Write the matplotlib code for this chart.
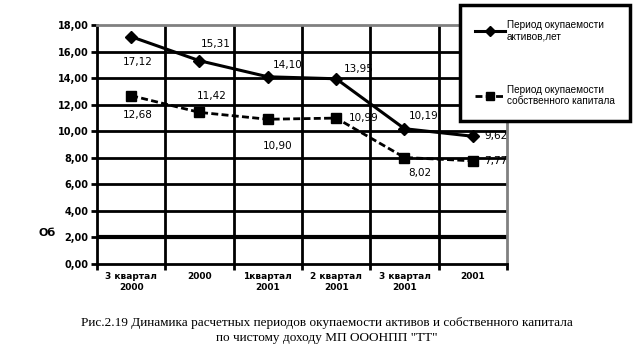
import numpy as np
import matplotlib
matplotlib.use("Agg")
from matplotlib import pyplot as plt

# categories and values
categories = ["3 квартал\n2000", "2000", "1квартал\n2001", "2 квартал\n2001", "3 квартал\n2001", "2001"]
assets = [17.12, 15.31, 14.10, 13.95, 10.19, 9.62]
equity = [12.68, 11.42, 10.90, 10.99, 8.02, 7.77]
assets_name = "Период окупаемости\nактивов,лет"
equity_name = "Период окупаемости\nсобственного капитала"
yticks = np.arange(0, 18.01, 2)

# label offsets (points) for each value, like in the picture
assets_off = [(4.5, -18), (12, 12), (14, 8.5), (16, 7), (14, 9.5), (16.5, 0)]
equity_off = [(4.5, -14), (8.5, 11.5), (7, -19), (19.5, 0), (11, -11), (16.5, 0)]

fig = plt.figure(figsize=(6.34, 3.52), dpi=100)
ax = fig.add_axes([97/634, 88/352, 410/634, 239/352])

x = np.arange(len(categories))
ax.plot(x, assets, color="black", lw=2.2, marker="D", ms=6, label=assets_name)
ax.plot(x, equity, color="black", lw=2, ls=(0, (2.5, 1.2)), marker="s", ms=7.5, label=equity_name)

for i in range(len(x)):
    ax.annotate(f"{assets[i]:.2f}".replace(".", ","), (x[i], assets[i]), xytext=assets_off[i],
                textcoords="offset points", ha="center", va="center", fontsize=7.5)
    ax.annotate(f"{equity[i]:.2f}".replace(".", ","), (x[i], equity[i]), xytext=equity_off[i],
                textcoords="offset points", ha="center", va="center", fontsize=7.5)

ax.set_xlim(-0.5, len(categories) - 0.5)
ax.set_ylim(0, 18)
ax.set_yticks(yticks)
ax.set_yticklabels([f"{v:.2f}".replace(".", ",") for v in yticks], fontsize=7, fontweight="bold")
ax.set_xticks(x)
ax.set_xticklabels(categories, fontsize=6.5, fontweight="bold")
ax.set_xticks(np.arange(-0.5, len(categories), 1), minor=True)
ax.tick_params(axis="x", which="major", length=0, pad=6)
ax.tick_params(axis="x", which="minor", length=4, width=2)
ax.tick_params(axis="y", length=4, width=2, pad=2)

# grid
for v in yticks[1:-1]:
    ax.axhline(v, color="black", lw=3 if v == 2 else 2, zorder=0)
for b in np.arange(0.5, len(categories) - 1, 1):
    ax.axvline(b, color="black", lw=2, zorder=0)

ax.spines["left"].set_linewidth(2)
ax.spines["bottom"].set_linewidth(2)
ax.spines["top"].set_color("gray")
ax.spines["right"].set_color("gray")
ax.spines["top"].set_linewidth(2)
ax.spines["right"].set_linewidth(2)

fig.text(47/634, 1 - 233/352, "Об", fontsize=8, fontweight="bold", ha="center", va="center")

leg = fig.legend(loc="upper left", bbox_to_anchor=(460/634, 1 - 5/352), prop={"family": "Liberation Sans", "size": 7.2},
                 frameon=True, fancybox=False, framealpha=1, handlelength=3.0, labelspacing=4.3,
                 borderpad=1.5, handletextpad=0.2, borderaxespad=0, markerscale=0.8)
leg.get_frame().set_edgecolor("black")
leg.get_frame().set_linewidth(2.5)
leg.set_zorder(10)

fig.text(0.515, 1 - 323/352, "Рис.2.19 Динамика расчетных периодов окупаемости активов и собственного капитала",
         ha="center", va="center", fontsize=9.5, family="Liberation Serif")
fig.text(0.515, 1 - 338/352, "по чистому доходу МП ОООНПП \"ТТ\"",
         ha="center", va="center", fontsize=9.5, family="Liberation Serif")

plt.savefig("out.png", dpi=100)
